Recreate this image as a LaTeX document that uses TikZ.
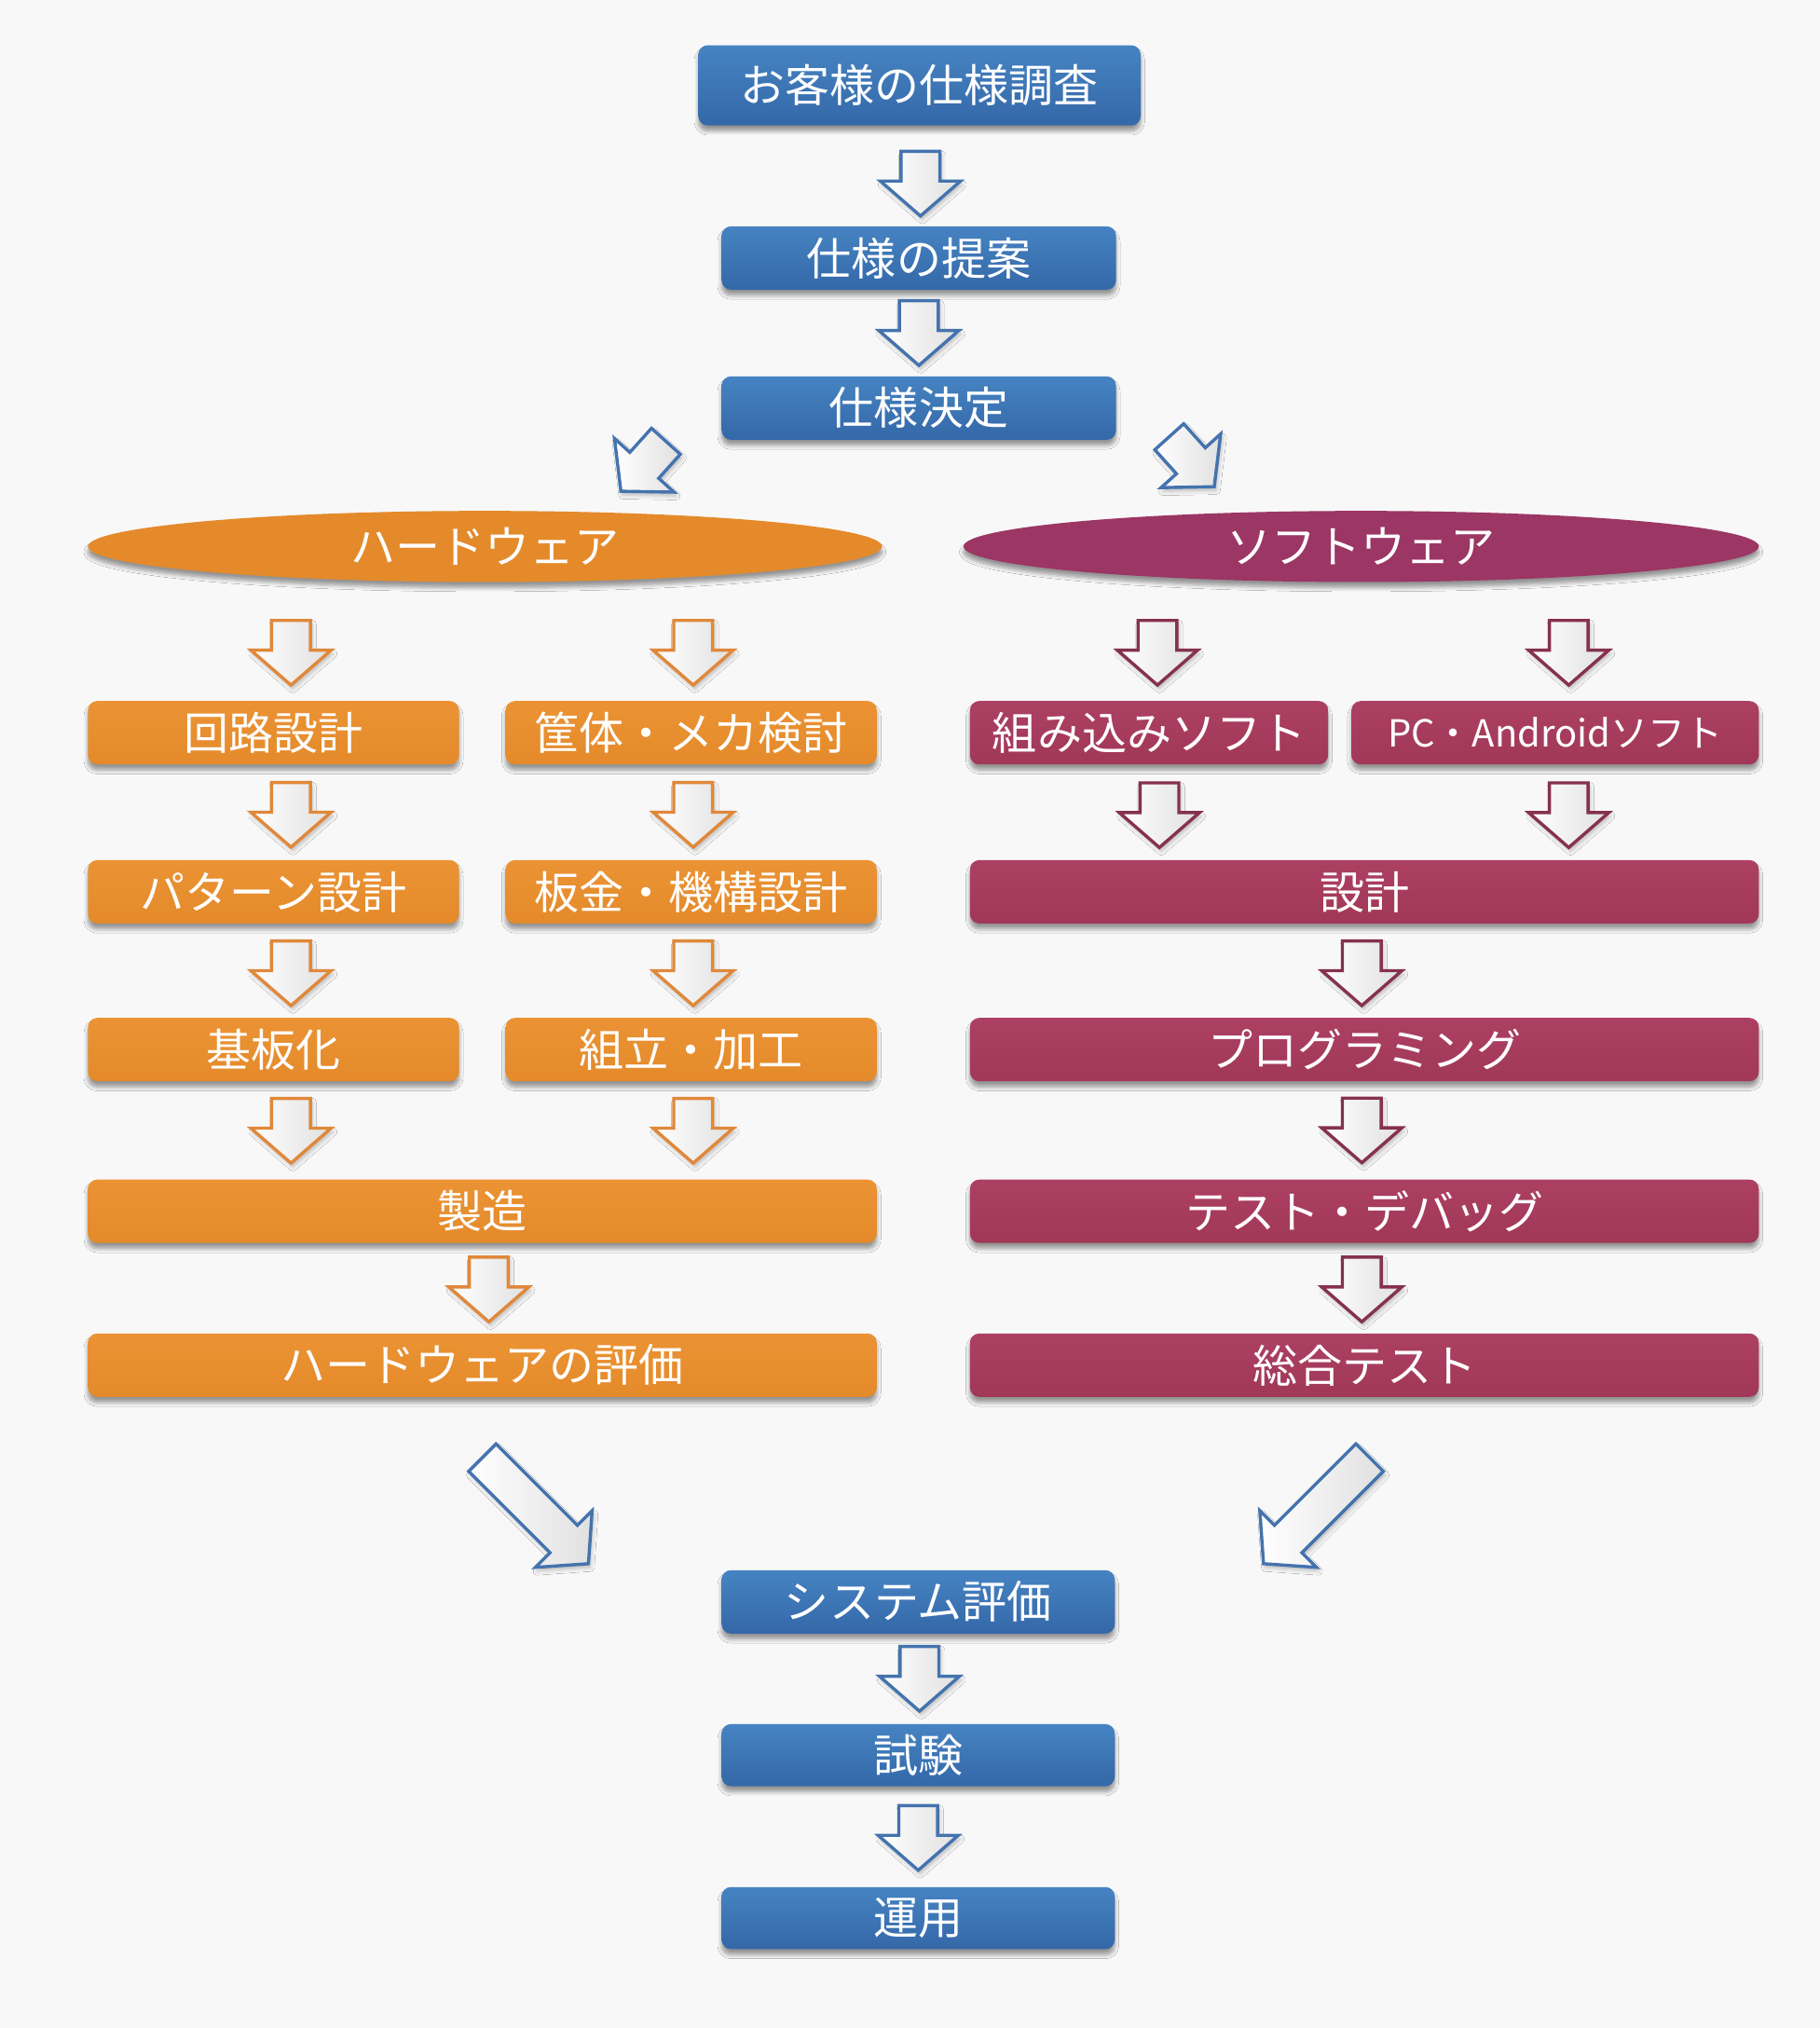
\documentclass[tikz,border=0pt]{standalone}
\usepackage{fontspec}
\setmainfont{Noto Sans CJK JP}
\usetikzlibrary{shapes.geometric,shadows.blur,calc}
\definecolor{bgcol}{HTML}{F8F8F8}
\definecolor{blueTop}{HTML}{4683C2}
\definecolor{blueBot}{HTML}{3468A8}
\definecolor{orTop}{HTML}{EB9334}
\definecolor{orBot}{HTML}{E48A2B}
\definecolor{rdTop}{HTML}{AC4063}
\definecolor{rdBot}{HTML}{A13858}
\definecolor{swEll}{HTML}{9C3664}
\definecolor{blueLine}{HTML}{4473AE}
\definecolor{orLine}{HTML}{E0883A}
\definecolor{rdLine}{HTML}{85314F}
\newcommand\blkarrow[4]{%
  \begin{scope}[shift={#1}, rotate=#2]
    \draw[blockarr, draw=#3] (-15,-#4) -- (15,-#4) -- (15,#4-27) -- (31,#4-27) -- (0,#4)
      -- (-31,#4-27) -- (-15,#4-27) -- cycle;
  \end{scope}}
\begin{document}
\begin{tikzpicture}[x=0.6937pt, y=-0.6937pt,
  sz/.style 2 args={minimum width=#1*0.6937pt, minimum height=#2*0.6937pt},
  mybox/.style={rounded corners=5pt, text=white, inner sep=0pt,
    font=\fontsize{24}{28}\selectfont,
    blur shadow={shadow xshift=0pt, shadow yshift=-3pt, shadow blur steps=6, shadow opacity=40}},
  bluebox/.style={mybox, top color=blueTop, bottom color=blueBot},
  orbox/.style={mybox, top color=orTop, bottom color=orBot},
  rdbox/.style={mybox, top color=rdTop, bottom color=rdBot},
  ellbox/.style={ellipse, inner sep=0pt, text=white, font=\fontsize{24}{28}\selectfont,
    blur shadow={shadow xshift=0pt, shadow yshift=-3pt, shadow blur steps=6, shadow opacity=40}},
  blockarr/.style={line width=1.7pt, line join=miter, left color=white, right color=black!12,
    blur shadow={shadow xshift=1pt, shadow yshift=-2pt, shadow blur steps=4, shadow opacity=25}}
]
\fill[bgcol] (0,0) rectangle (1407,1568);
\useasboundingbox (0,0) rectangle (1407,1568);

% top column
\node[bluebox, sz={342}{62}] (top) at (711,66) {お客様の仕様調査};
\node[bluebox, sz={305}{49}] (prop) at (710.5,199.5) {仕様の提案};
\node[bluebox, sz={305}{49}] (dec) at (710.5,315.5) {仕様決定};

% branches
\node[ellbox, fill=orBot, sz={614}{55}] (hw) at (375,422.5) {ハードウェア};
\node[ellbox, fill=swEll, sz={615}{55}] (sw) at (1052.5,422.5) {ソフトウェア};

% hardware
\node[orbox, sz={287}{49}] (h1a) at (211.5,566.5) {回路設計};
\node[orbox, sz={287}{49}] (h1b) at (534.5,566.5) {筐体・メカ検討};
\node[orbox, sz={287}{49}] (h2a) at (211.5,689.5) {パターン設計};
\node[orbox, sz={287}{49}] (h2b) at (534.5,689.5) {板金・機構設計};
\node[orbox, sz={287}{49}] (h3a) at (211.5,811.5) {基板化};
\node[orbox, sz={287}{49}] (h3b) at (534.5,811.5) {組立・加工};
\node[orbox, sz={610}{49}] (h4) at (373,936.5) {製造};
\node[orbox, sz={610}{49}] (h5) at (373,1055.5) {ハードウェアの評価};

% software
\node[rdbox, sz={277}{49}] (s1a) at (888.5,566.5) {組み込みソフト};
\node[rdbox, sz={315}{49}, font=\fontsize{20}{24}\selectfont] (s1b) at (1202.5,566.5) {PC・Androidソフト};
\node[rdbox, sz={610}{49}] (s2) at (1055,689.5) {設計};
\node[rdbox, sz={610}{49}] (s3) at (1055,811.5) {プログラミング};
\node[rdbox, sz={610}{49}] (s4) at (1055,936.5) {テスト・デバッグ};
\node[rdbox, sz={610}{49}] (s5) at (1055,1055.5) {総合テスト};

% bottom column
\node[bluebox, sz={304}{49}] (sys) at (710,1238.5) {システム評価};
\node[bluebox, sz={304}{48}] (tst) at (710,1357) {試験};
\node[bluebox, sz={304}{48}] (ops) at (710,1483) {運用};

% arrows: top column
\blkarrow{($(top.south)!0.5!(prop.north)+(1,6)$)}{0}{blueLine}{25}
\blkarrow{($(prop.south)!0.5!(dec.north)$)}{0}{blueLine}{25}
\coordinate (dl) at (497.5,360.5);
\coordinate (dr) at (921.5,357);
\blkarrow{(dl)}{-42}{blueLine}{26}
\blkarrow{(dr)}{42}{blueLine}{26}

% hardware arrows
\blkarrow{($(h1a.north)+(13.5,-37)$)}{0}{orLine}{25}
\blkarrow{($(h1b.north)+(1.5,-37)$)}{0}{orLine}{25}
\blkarrow{($(h1a.south)!0.5!(h2a.north)+(13.5,2)$)}{0}{orLine}{25}
\blkarrow{($(h1b.south)!0.5!(h2b.north)+(1.5,2)$)}{0}{orLine}{25}
\blkarrow{($(h2a.south)!0.5!(h3a.north)+(13.5,2)$)}{0}{orLine}{25}
\blkarrow{($(h2b.south)!0.5!(h3b.north)+(1.5,2)$)}{0}{orLine}{25}
\blkarrow{($(h3a.south)+(13.5,38)$)}{0}{orLine}{25}
\blkarrow{($(h3b.south)+(1.5,38)$)}{0}{orLine}{25}
\blkarrow{($(h4.south)!0.5!(h5.north)+(5,1)$)}{0}{orLine}{25}

% software arrows
\blkarrow{($(s1a.north)+(6.5,-37)$)}{0}{rdLine}{25}
\blkarrow{($(s1b.north)+(10.5,-37)$)}{0}{rdLine}{25}
\blkarrow{($(s1a.south)+(8,39)$)}{0}{rdLine}{25}
\blkarrow{($(s1b.south)+(10.5,39)$)}{0}{rdLine}{25}
\blkarrow{($(s2.south)!0.5!(s3.north)+(-2,2)$)}{0}{rdLine}{25}
\blkarrow{($(s3.south)!0.5!(s4.north)+(-2,0)$)}{0}{rdLine}{25}
\blkarrow{($(s4.south)!0.5!(s5.north)+(-2,1)$)}{0}{rdLine}{25}

% big arrows to system evaluation
\coordinate (bl) at (414,1168);
\coordinate (br) at (1018,1168);
\blkarrow{(bl)}{45}{blueLine}{58}
\blkarrow{(br)}{-45}{blueLine}{58}

% bottom arrows
\blkarrow{($(sys.south)!0.5!(tst.north)+(1,0)$)}{0}{blueLine}{25}
\blkarrow{($(tst.south)!0.5!(ops.north)+(0,1)$)}{0}{blueLine}{25}
\end{tikzpicture}
\end{document}
